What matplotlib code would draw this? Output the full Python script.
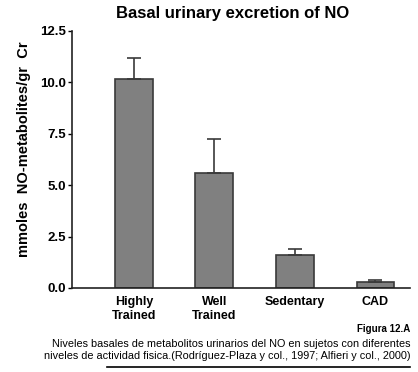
import numpy as np
import matplotlib.pyplot as plt
from matplotlib.lines import Line2D

plt.rcParams['font.family'] = ['Liberation Sans', 'DejaVu Sans']

# datos
grupos = ['Highly\nTrained', 'Well\nTrained', 'Sedentary', 'CAD']
medias = [10.17, 5.61, 1.60, 0.28]
errores = [1.03, 1.64, 0.27, 0.09]
yticks = [0.0, 2.5, 5.0, 7.5, 10.0, 12.5]

fig = plt.figure(figsize=(4.18, 3.72), dpi=100)
ax = fig.add_axes([0.172, 0.226, 0.809, 0.691])

x = np.arange(len(grupos))
ax.bar(x, medias, width=0.47, color='#808080', edgecolor='#3a3a3a', linewidth=1.2,
       yerr=[np.zeros(len(errores)), errores],
       error_kw=dict(ecolor='#3a3a3a', elinewidth=1.2, capsize=5, capthick=1.2))

ax.set_xlim(-0.77, 3.43)
ax.set_ylim(0, 12.5)
ax.set_yticks(yticks)
ax.set_yticklabels([f'{v:.1f}' for v in yticks], fontweight='bold', fontsize=9.5)
ax.set_xticks(x)
ax.set_xticklabels(grupos, fontweight='bold', fontsize=9)
ax.tick_params(axis='x', length=0, pad=6)
ax.tick_params(axis='y', length=3, width=1, pad=1)
for s in ['top', 'right']:
    ax.spines[s].set_visible(False)
for s in ['left', 'bottom']:
    ax.spines[s].set_linewidth(1.2)
    ax.spines[s].set_color('#222222')

fig.text(0.058, 0.60, 'mmoles  NO-metabolites/gr  Cr', rotation=90, ha='center', va='center',
         fontweight='bold', fontsize=10.5)
fig.text(0.557, 0.965, 'Basal urinary excretion of NO', ha='center', va='center',
         fontweight='bold', fontsize=12)

fig.text(0.981, 0.115, 'Figura 12.A', ha='right', va='center', fontweight='bold', fontsize=7)
fig.text(0.981, 0.058,
         'Niveles basales de metabolitos urinarios del NO en sujetos con diferentes\n'
         'niveles de actividad fisica.(Rodríguez-Plaza y col., 1997; Alfieri y col., 2000)',
         ha='right', va='center', fontsize=7.8, linespacing=1.25)
fig.add_artist(Line2D([0.256, 0.981], [0.013, 0.013], color='black', linewidth=1.2))

fig.savefig('out.png', dpi=100)
